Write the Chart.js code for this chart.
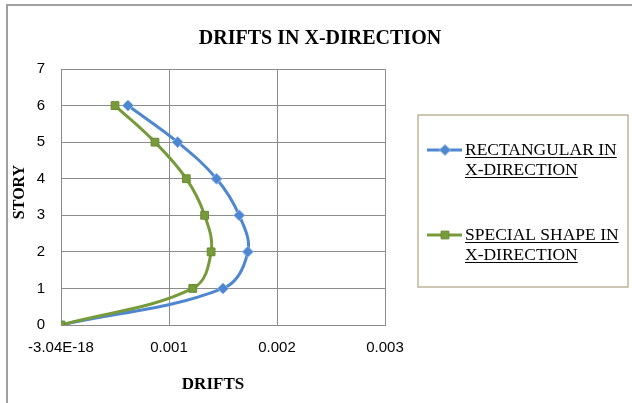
<!DOCTYPE html>
<html>
<head>
<meta charset="utf-8">
<title>Drifts in X-direction</title>
<script src="https://cdn.jsdelivr.net/npm/chart.js@4/dist/chart.umd.min.js"></script>
<style>
  html, body { margin: 0; padding: 0; background: #fff; }
  canvas { display: block; }
</style>
</head>
<body>
<canvas id="grafico-drifts" width="632" height="403"></canvas>
<script>
// Story drifts, X direction
const stories = [0, 1, 2, 3, 4, 5, 6];
const rectangularDrift = [0, 0.00150, 0.00173, 0.00165, 0.00144, 0.00108, 0.00062];
const specialDrift = [0, 0.00122, 0.00139, 0.00133, 0.00116, 0.00087, 0.00050];

const seriesLabels = ['RECTANGULAR IN X-DIRECTION', 'SPECIAL SHAPE IN X-DIRECTION'];
const legendLines = [['RECTANGULAR IN', 'X-DIRECTION'], ['SPECIAL SHAPE IN', 'X-DIRECTION']];
const xTickValues = [-3.04e-18, 0.001, 0.002, 0.003];
const xTickLabels = ['-3.04E-18', '0.001', '0.002', '0.003'];
const yTickValues = [0, 1, 2, 3, 4, 5, 6, 7];

const chartTitle = 'DRIFTS IN X-DIRECTION';
const xTitle = 'DRIFTS';
const yTitle = 'STORY';

const azul = '#4f86d0';
const verde = '#779a3a';
const cinzaGrade = '#8c8c8c';

const toPoints = (xs) => xs.map((x, i) => ({ x: x, y: stories[i] }));

// titles, legend box and the outer frame are painted by hand
const decoracao = {
  id: 'decoracao',
  afterDraw(chart) {
    const ctx = chart.ctx;
    ctx.save();

    // outer frame (only left and top edges are inside the canvas)
    ctx.strokeStyle = '#a0a0a0';
    ctx.lineWidth = 2;
    ctx.beginPath();
    ctx.moveTo(7, 410);
    ctx.lineTo(7, 5);
    ctx.lineTo(640, 5);
    ctx.stroke();

    ctx.fillStyle = '#000';
    ctx.textAlign = 'center';
    ctx.textBaseline = 'middle';

    ctx.font = 'bold 20px "Liberation Serif"';
    ctx.fillText(chartTitle, 320, 39);

    ctx.font = 'bold 17px "Liberation Serif"';
    ctx.fillText(xTitle, 213, 385);

    ctx.save();
    ctx.translate(20, 192);
    ctx.rotate(-Math.PI / 2);
    ctx.font = 'bold 16px "Liberation Serif"';
    ctx.fillText(yTitle, 0, 0);
    ctx.restore();

    // legend box
    ctx.strokeStyle = '#bdb59c';
    ctx.lineWidth = 1.5;
    ctx.strokeRect(418, 115, 210, 172);

    ctx.font = '17.5px "Liberation Serif"';
    ctx.textAlign = 'left';
    const itemTops = [150, 235];
    chart.data.datasets.forEach((ds, i) => {
      const y0 = itemTops[i];
      ctx.strokeStyle = ds.borderColor;
      ctx.lineWidth = 3;
      ctx.beginPath();
      ctx.moveTo(427, y0);
      ctx.lineTo(462, y0);
      ctx.stroke();

      // drawPoint fills and strokes with the current context styles
      ctx.fillStyle = ds.pointBackgroundColor;
      ctx.strokeStyle = ds.pointBorderColor;
      ctx.lineWidth = 1;
      Chart.helpers.drawPoint(ctx, {
        pointStyle: ds.pointStyle,
        radius: ds.pointRadius,
        borderWidth: 1,
        rotation: 0
      }, 445, y0);

      ctx.fillStyle = '#000';
      legendLines[i].forEach((linha, k) => {
        const y = y0 + k * 20;
        ctx.fillText(linha, 465, y);
        const w = ctx.measureText(linha).width;
        ctx.fillRect(465, y + 7, w, 1);
      });
    });

    ctx.restore();
  }
};

const chart = new Chart(document.getElementById('grafico-drifts'), {
  type: 'scatter',
  data: {
    datasets: [
      {
        label: seriesLabels[0],
        data: toPoints(rectangularDrift),
        showLine: true,
        borderColor: azul,
        borderWidth: 3,
        tension: 0.38,
        pointStyle: 'rectRot',
        pointRadius: 5.5,
        pointBackgroundColor: azul,
        pointBorderColor: '#8fb6ea',
        pointBorderWidth: 1,
        order: 1
      },
      {
        label: seriesLabels[1],
        data: toPoints(specialDrift),
        showLine: true,
        borderColor: verde,
        borderWidth: 3,
        tension: 0.38,
        pointStyle: 'rect',
        pointRadius: 5.5,
        pointBackgroundColor: verde,
        pointBorderColor: '#6a8a30',
        pointBorderWidth: 1,
        order: 0
      }
    ]
  },
  options: {
    responsive: false,
    animation: false,
    devicePixelRatio: 1,
    layout: { padding: { left: 0, top: 69, right: 247, bottom: 0 } },
    plugins: {
      legend: { display: false },
      title: { display: false },
      tooltip: { enabled: false }
    },
    scales: {
      x: {
        type: 'linear',
        min: xTickValues[0],
        max: xTickValues[xTickValues.length - 1],
        afterFit: (scale) => { scale.height = 78; },
        afterBuildTicks: (scale) => { scale.ticks = xTickValues.map(v => ({ value: v })); },
        ticks: {
          padding: 14,
          color: '#000',
          font: { family: '"Liberation Sans"', size: 15 },
          maxRotation: 0,
          callback: (value, index) => xTickLabels[index]
        },
        grid: { color: cinzaGrade, drawTicks: false },
        border: { color: cinzaGrade }
      },
      y: {
        type: 'linear',
        min: yTickValues[0],
        max: yTickValues[yTickValues.length - 1],
        afterFit: (scale) => { scale.width = 61; },
        afterBuildTicks: (scale) => { scale.ticks = yTickValues.map(v => ({ value: v })); },
        ticks: {
          padding: 16,
          color: '#000',
          font: { family: '"Liberation Sans"', size: 15 }
        },
        grid: { color: cinzaGrade, drawTicks: false },
        border: { color: cinzaGrade }
      }
    }
  },
  plugins: [decoracao]
});
</script>
</body>
</html>
